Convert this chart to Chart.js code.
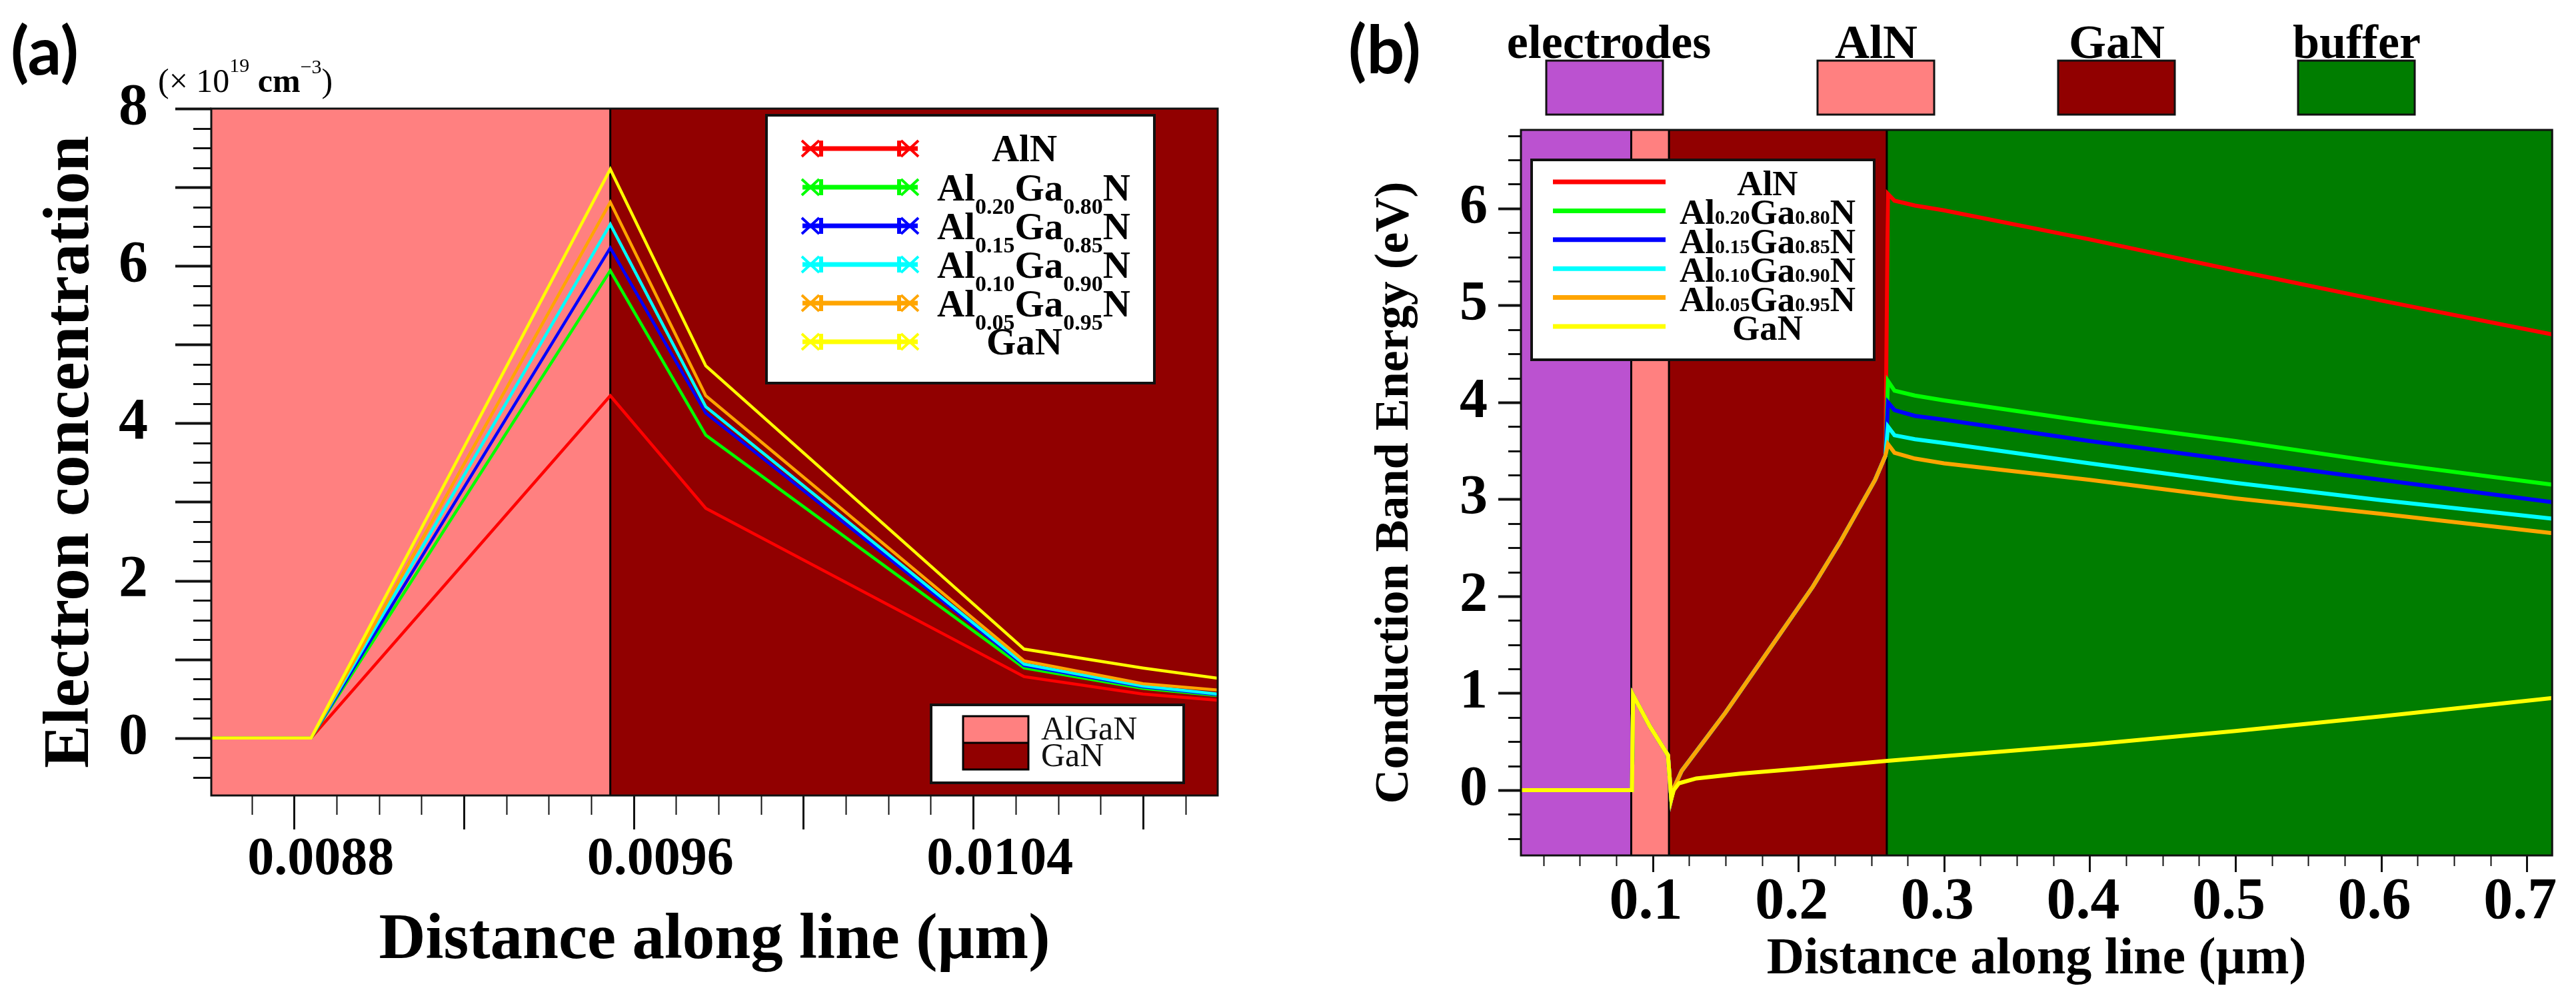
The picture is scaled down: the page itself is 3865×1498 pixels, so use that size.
<!DOCTYPE html>
<html><head><meta charset="utf-8">
<script src="https://cdn.jsdelivr.net/npm/chart.js@4.4.1/dist/chart.umd.min.js"></script>
<style>
html,body{margin:0;padding:0;background:#fff;}
#wrap{position:relative;width:3865px;height:1498px;overflow:hidden;background:#fff;}
canvas{position:absolute;top:0;}
#ca{left:0;} #cb{left:1900px;}
</style></head><body>
<div id="wrap"><canvas id="ca" width="1900" height="1498"></canvas><canvas id="cb" width="1965" height="1498"></canvas></div>
<script>
// ================= DATA =================
const seriesNames = ['AlN','Al0.20Ga0.80N','Al0.15Ga0.85N','Al0.10Ga0.90N','Al0.05Ga0.95N','GaN'];

// ---- panel (a): electron concentration (x 1e19 cm^-3) ----
const aX    = [0.008605, 0.00884, 0.009545, 0.00977, 0.01052, 0.0108, 0.010976];
const aAlN  = [0, 0, 4.35, 2.92, 0.78, 0.56, 0.48];
const aAl20 = [0, 0, 5.94, 3.85, 0.89, 0.63, 0.54];
const aAl15 = [0, 0, 6.23, 4.13, 0.92, 0.65, 0.55];
const aAl10 = [0, 0, 6.53, 4.21, 0.94, 0.66, 0.56];
const aAl05 = [0, 0, 6.81, 4.35, 0.98, 0.69, 0.61];
const aGaN  = [0, 0, 7.23, 4.73, 1.13, 0.89, 0.76];
const aXRange = [0.008605, 0.010976];
const aYRange = [-0.73, 8];
const aXTicks = [0.0088, 0.0096, 0.0104];
const aYTicks = [0, 2, 4, 6, 8];
const aRegionNames = ['AlGaN', 'GaN'];
const aBoundary = [0.009545];

// ---- panel (b): conduction band energy (eV) ----
const bHeadX = [0.009, 0.0858, 0.0866, 0.098, 0.1105, 0.1128];
const bHeadY = [0, 0, 0.98, 0.66, 0.36, -0.09];
const bChanX = [0.1145, 0.12, 0.15, 0.18, 0.21, 0.2283, 0.2527, 0.2598];
const bChanY = [0.02, 0.2, 0.8, 1.45, 2.1, 2.55, 3.2, 3.45];
const bBufX  = [0.2615, 0.266, 0.28, 0.3, 0.4, 0.5, 0.6, 0.7175];
const bAlN   = [6.15, 6.08, 6.03, 5.98, 5.68, 5.36, 5.05, 4.70];
const bAl20  = [4.22, 4.12, 4.07, 4.02, 3.80, 3.60, 3.38, 3.15];
const bAl15  = [4.00, 3.92, 3.86, 3.82, 3.60, 3.40, 3.20, 2.97];
const bAl10  = [3.75, 3.66, 3.62, 3.58, 3.37, 3.17, 2.99, 2.80];
const bAl05  = [3.57, 3.48, 3.42, 3.37, 3.20, 3.01, 2.85, 2.65];
const bGaNX  = [0.1145, 0.118, 0.13, 0.16, 0.2, 0.26, 0.3, 0.4, 0.5, 0.6, 0.7175];
const bGaNY  = [0.0, 0.07, 0.12, 0.17, 0.22, 0.30, 0.35, 0.47, 0.61, 0.76, 0.95];
const bXRange = [0.0096, 0.7174];
const bYRange = [-0.674, 6.81];
const bXTicks = [0.1, 0.2, 0.3, 0.4, 0.5, 0.6, 0.7];
const bYTicks = [0, 1, 2, 3, 4, 5, 6];
const bRegionNames = ['electrodes', 'AlN', 'GaN', 'buffer'];
const bBoundary = [0.0853, 0.1112, 0.2607];

// ================= STYLE =================
const SERIF = "'Liberation Serif','Times New Roman',serif";
const SCOL = ['#FF0000', '#00FF00', '#0000FF', '#00FFFF', '#FFA500', '#FFFF00'];
const RCOL_A = ['rgb(255,128,128)', 'rgb(145,0,0)'];
const RCOL_B = ['rgb(187,82,208)', 'rgb(255,128,128)', 'rgb(145,0,0)', 'rgb(0,125,0)'];

function ds(label, xs, ys, color, order, width) {
  return {label, data: xs.map((x, i) => ({x, y: ys[i]})), borderColor: color, backgroundColor: color,
    borderWidth: width, pointRadius: 0, pointHoverRadius: 0, showLine: true, tension: 0, order, fill: false};
}
function nameParts(s) { return s.split(/(\d\.\d+)/).filter(t => t.length).map(t => [t, /^\d\.\d+$/.test(t)]); }
function drawParts(ctx, parts, x, y, align, mainFont, subFont, subDy) {
  let w = 0;
  parts.forEach(p => { ctx.font = p[1] ? subFont : mainFont; w += ctx.measureText(p[0]).width; });
  let cx = align === 'center' ? x - w / 2 : x;
  ctx.textAlign = 'left'; ctx.textBaseline = 'alphabetic';
  parts.forEach(p => { ctx.font = p[1] ? subFont : mainFont; ctx.fillText(p[0], cx, y + (p[1] ? subDy : 0)); cx += ctx.measureText(p[0]).width; });
}
function ticksX(ctx, sc, y0, step, every, majLen, minLen) {
  const i0 = Math.ceil(sc.min / step - 1e-6), i1 = Math.floor(sc.max / step + 1e-6);
  ctx.strokeStyle = '#111';
  for (let i = i0; i <= i1; i++) {
    const px = Math.round(sc.getPixelForValue(i * step)) + 0.5, maj = i % every === 0;
    ctx.lineWidth = maj ? 3 : 2; ctx.beginPath(); ctx.moveTo(px, y0); ctx.lineTo(px, y0 + (maj ? majLen : minLen)); ctx.stroke();
  }
}
function ticksY(ctx, sc, x0, step, every, majLen, minLen) {
  const i0 = Math.ceil(sc.min / step - 1e-6), i1 = Math.floor(sc.max / step + 1e-6);
  ctx.strokeStyle = '#111';
  for (let i = i0; i <= i1; i++) {
    const py = Math.round(sc.getPixelForValue(i * step)) + 0.5, maj = i % every === 0;
    ctx.lineWidth = maj ? 4 : 3; ctx.beginPath(); ctx.moveTo(x0, py); ctx.lineTo(x0 - (maj ? majLen : minLen), py); ctx.stroke();
  }
}
function regions(chart, bounds, cols) {
  const {ctx, chartArea: ca, scales: {x}} = chart;
  const edges = [ca.left, ...bounds.map(b => x.getPixelForValue(b)), ca.right];
  ctx.save();
  for (let i = 0; i < cols.length; i++) { ctx.fillStyle = cols[i]; ctx.fillRect(edges[i], ca.top, edges[i + 1] - edges[i], ca.bottom - ca.top); }
  ctx.strokeStyle = '#000'; ctx.lineWidth = 3;
  for (let i = 1; i < edges.length - 1; i++) { ctx.beginPath(); ctx.moveTo(edges[i], ca.top); ctx.lineTo(edges[i], ca.bottom); ctx.stroke(); }
  ctx.restore();
}

const plugA = {
  id: 'plugA',
  beforeDatasetsDraw(chart) { regions(chart, aBoundary, RCOL_A); },
  afterDraw(chart) {
    const {ctx, chartArea: ca, scales: {x, y}} = chart;
    ctx.save();
    ctx.strokeStyle = '#111'; ctx.lineWidth = 3; ctx.strokeRect(ca.left, ca.top, ca.right - ca.left, ca.bottom - ca.top);
    ticksX(ctx, x, ca.bottom, 0.0001, 4, 51, 29);
    ticksY(ctx, y, ca.left, 0.25, 4, 54, 27);
    // series legend
    ctx.fillStyle = '#fff'; ctx.fillRect(1150, 173, 582, 402);
    ctx.strokeStyle = '#111'; ctx.lineWidth = 4; ctx.strokeRect(1150, 173, 582, 402);
    seriesNames.forEach((nm, i) => {
      const ry = 223 + i * 58;
      ctx.strokeStyle = SCOL[i]; ctx.lineWidth = 7; ctx.lineCap = 'butt';
      ctx.beginPath(); ctx.moveTo(1204, ry); ctx.lineTo(1377, ry); ctx.stroke();
      ctx.lineWidth = 4;
      [1216, 1365].forEach(cx => { ctx.beginPath(); ctx.moveTo(cx - 13, ry - 12); ctx.lineTo(cx + 13, ry + 12); ctx.moveTo(cx - 13, ry + 12); ctx.lineTo(cx + 13, ry - 12); ctx.stroke(); });
      ctx.fillStyle = SCOL[i];
      [1232, 1349].forEach(cx => { ctx.fillRect(cx - 3, ry - 12, 6, 24); });
      ctx.fillStyle = '#000';
      const parts = nameParts(nm);
      if (parts.length === 1) drawParts(ctx, parts, 1537, ry + 19, 'center', `bold 57px ${SERIF}`, `bold 34px ${SERIF}`, 20);
      else drawParts(ctx, parts, 1406, ry + 20, 'left', `bold 57px ${SERIF}`, `bold 34px ${SERIF}`, 20);
    });
    // region legend
    ctx.fillStyle = '#fff'; ctx.fillRect(1397, 1058, 379, 117);
    ctx.strokeStyle = '#111'; ctx.lineWidth = 4; ctx.strokeRect(1397, 1058, 379, 117);
    ctx.fillStyle = RCOL_A[0]; ctx.fillRect(1445, 1075, 98, 40);
    ctx.fillStyle = RCOL_A[1]; ctx.fillRect(1445, 1115, 98, 40);
    ctx.strokeStyle = '#000'; ctx.lineWidth = 3; ctx.strokeRect(1445, 1075, 98, 80);
    ctx.beginPath(); ctx.moveTo(1445, 1115); ctx.lineTo(1543, 1115); ctx.stroke();
    ctx.fillStyle = '#111'; ctx.font = `50px ${SERIF}`; ctx.textAlign = 'left'; ctx.textBaseline = 'alphabetic';
    ctx.fillText(aRegionNames[0], 1562, 1110); ctx.fillText(aRegionNames[1], 1562, 1150);
    // unit label
    ctx.fillStyle = '#000';
    let cx = 237;
    const seg = [['(× 10', `50px ${SERIF}`, 0], ['19', `30px ${SERIF}`, -30], [' cm', `bold 50px ${SERIF}`, 0], ['−3', `30px ${SERIF}`, -28], [')', `50px ${SERIF}`, 0]];
    seg.forEach(s => { ctx.font = s[1]; ctx.fillText(s[0], cx, 138 + s[2]); cx += ctx.measureText(s[0]).width; });
    // panel letter
    ctx.font = `bold 100px Lato, 'Open Sans', sans-serif`; ctx.fillText('(a)', 16, 112);
    ctx.restore();
  }
};

const plugB = {
  id: 'plugB',
  beforeDatasetsDraw(chart) { regions(chart, bBoundary, RCOL_B); },
  afterDraw(chart) {
    const {ctx, chartArea: ca, scales: {x, y}} = chart;
    ctx.save();
    ctx.strokeStyle = '#111'; ctx.lineWidth = 3; ctx.strokeRect(ca.left, ca.top, ca.right - ca.left, ca.bottom - ca.top);
    ticksX(ctx, x, ca.bottom, 0.025, 4, 25, 16);
    ticksY(ctx, y, ca.left, 0.25, 4, 34, 19);
    // series legend
    ctx.fillStyle = '#fff'; ctx.fillRect(398, 240, 514, 300);
    ctx.strokeStyle = '#111'; ctx.lineWidth = 4; ctx.strokeRect(398, 240, 514, 300);
    seriesNames.forEach((nm, i) => {
      const ry = 273 + i * 43.4;
      ctx.strokeStyle = SCOL[i]; ctx.lineWidth = 7;
      ctx.beginPath(); ctx.moveTo(430, ry); ctx.lineTo(599, ry); ctx.stroke();
      ctx.fillStyle = '#000';
      drawParts(ctx, nameParts(nm), 752, ry + 20, 'center', `bold 53px ${SERIF}`, `bold 30px ${SERIF}`, 0);
    });
    // header region boxes
    const boxX = [420, 827, 1188, 1548];
    bRegionNames.forEach((nm, i) => {
      ctx.fillStyle = RCOL_B[i]; ctx.fillRect(boxX[i], 91, 175, 81);
      ctx.strokeStyle = '#111'; ctx.lineWidth = 3; ctx.strokeRect(boxX[i], 91, 175, 81);
      ctx.fillStyle = '#000'; ctx.font = `bold 72px ${SERIF}`; ctx.textAlign = 'center'; ctx.textBaseline = 'alphabetic';
      ctx.fillText(nm, boxX[i] + 88 + (i === 0 ? 6 : 0), 87);
    });
    ctx.textAlign = 'left';
    ctx.font = `bold 100px Lato, 'Open Sans', sans-serif`; ctx.fillText('(b)', 123, 110);
    ctx.restore();
  }
};

function axisCfg(range, tickVals, fit, fontSize, pad, offset, titleText, titleSize, titlePad) {
  return {
    type: 'linear', min: range[0], max: range[1],
    afterFit: fit,
    afterBuildTicks(s) { s.ticks = tickVals.map(v => ({value: v})); },
    grid: {display: false, drawTicks: false}, border: {display: false},
    ticks: {color: '#000', font: {family: SERIF, size: fontSize, weight: 'bold'}, padding: pad, labelOffset: offset, maxRotation: 0, autoSkip: false, callback: v => String(v)},
    title: {display: true, text: titleText, color: '#000', font: {family: SERIF, size: titleSize, weight: 'bold'}, padding: titlePad}
  };
}
const baseOpts = {responsive: false, devicePixelRatio: 1, animation: false, events: [],
  plugins: {legend: {display: false}, tooltip: {enabled: false}}};

const aSeries = [aAlN, aAl20, aAl15, aAl10, aAl05, aGaN];
new Chart(document.getElementById('ca'), {
  type: 'scatter',
  data: {datasets: aSeries.map((ys, i) => ds(seriesNames[i], aX, ys, SCOL[i], 5 - i, 4.5))},
  options: Object.assign({}, baseOpts, {
    layout: {padding: {top: 163, right: 73, left: 0, bottom: 0}},
    scales: {
      x: axisCfg(aXRange, aXTicks, s => { s.height = 304; }, 80, 49, 40, 'Distance along line (µm)', 97, {top: 0, bottom: 27}),
      y: axisCfg(aYRange, aYTicks, s => { s.width = 317; }, 88, 95, 0, 'Electron concentration', 97, {top: 49, bottom: 0})
    }
  }),
  plugins: [plugA]
});

const bBuf = [bAlN, bAl20, bAl15, bAl10, bAl05];
const bSets = bBuf.map((ys, i) => ds(seriesNames[i], [...bHeadX, ...bChanX, ...bBufX], [...bHeadY, ...bChanY, ...ys], SCOL[i], 5 - i, 6));
bSets.push(ds(seriesNames[5], [...bHeadX, ...bGaNX], [...bHeadY, ...bGaNY], SCOL[5], 0, 6));
new Chart(document.getElementById('cb'), {
  type: 'scatter',
  data: {datasets: bSets},
  options: Object.assign({}, baseOpts, {
    layout: {padding: {top: 195, right: 32, left: 0, bottom: 0}},
    scales: {
      x: axisCfg(bXRange, bXTicks, s => { s.height = 214; }, 88, 18, -10, 'Distance along line (µm)', 78, {top: 0, bottom: 10}),
      y: axisCfg(bYRange, bYTicks, s => { s.width = 382; }, 84, 50, 0, 'Conduction Band Energy (eV)', 72, {top: 150, bottom: 0})
    }
  }),
  plugins: [plugB]
});
</script>
</body></html>
